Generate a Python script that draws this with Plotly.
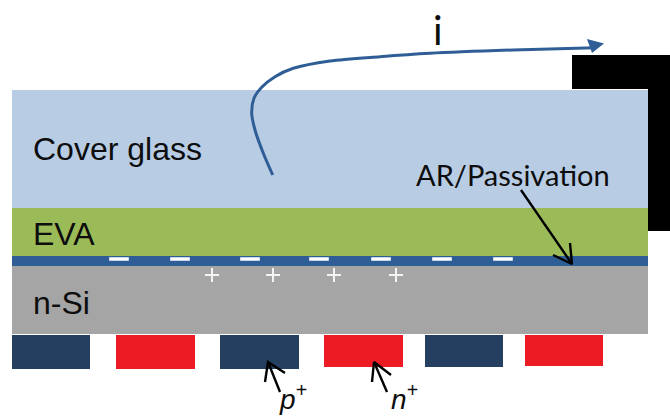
import plotly.graph_objects as go

# Layers: name, left, right, top, bottom, colour
layer_names = ["glass", "eva", "passivation", "silicon"]
layer_left = [12, 12, 12, 12]
layer_right = [648, 648, 648, 648]
layer_top = [90, 208, 256, 266]
layer_bottom = [208, 256, 266, 334]
layer_colors = ["#b8cce4", "#9bbb59", "#2f5e96", "#a5a5a5"]

# Rear contacts
contact_left = [12, 116, 220, 324, 425, 525]
contact_right = [90, 195, 299, 403, 503, 603]
contact_bottom = [369, 369, 369, 367, 367, 366]
contact_top = 335
contact_colors = ["#243f60", "#ed1c24", "#243f60", "#ed1c24", "#243f60", "#ed1c24"]

# Frame
frame_x = [572, 670, 670, 648, 648, 572, 572]
frame_y = [55, 55, 231, 231, 89, 89, 55]

# Charges
minus_x = [119, 180, 250, 319, 381, 442, 503]
minus_y = [259] * 7
plus_x = [212, 273, 334, 396]
plus_y = [275] * 4

# Current path
curve_x = [272.7, 263.3, 255, 251.7, 254, 261.7, 275, 293.3, 330, 380, 430, 513, 595]
curve_y = [175, 153.3, 130, 113.3, 98.3, 87.3, 76.7, 68.3, 61, 56.7, 53.3, 50, 47.7]
head_x = [604, 587, 592, 604]
head_y = [43.5, 39, 53, 43.5]

# Black pointer arrows: stroke, then the head's three points
pointers = [
    ([521, 572], [190, 264], [553, 572, 570], [255, 264, 243]),
    ([280, 268], [392, 362], [265, 268, 285], [382, 362, 373]),
    ([387, 374], [392, 362], [372, 374, 391], [382, 362, 375]),
]

fig = go.Figure()


def box(x0, x1, y0, y1, color):
    fig.add_trace(go.Scatter(x=[x0, x1, x1, x0, x0], y=[y0, y0, y1, y1, y0],
                             mode="lines", fill="toself", fillcolor=color,
                             line=dict(width=0), hoverinfo="skip"))


fig.add_trace(go.Scatter(x=frame_x, y=frame_y, mode="lines", fill="toself",
                         fillcolor="#000000", line=dict(width=0), hoverinfo="skip"))
for i in range(len(layer_names)):
    box(layer_left[i], layer_right[i], layer_top[i], layer_bottom[i], layer_colors[i])
for i in range(len(contact_left)):
    box(contact_left[i], contact_right[i], contact_top, contact_bottom[i], contact_colors[i])

fig.add_trace(go.Scatter(x=minus_x, y=minus_y, mode="markers",
                         marker=dict(symbol="line-ew", size=14, line=dict(color="white", width=3.5))))
fig.add_trace(go.Scatter(x=plus_x, y=plus_y, mode="markers",
                         marker=dict(symbol="cross-thin", size=10, line=dict(color="#f4f4f4", width=2))))

fig.add_trace(go.Scatter(x=curve_x, y=curve_y, mode="lines",
                         line=dict(color="#2f5e96", width=3, shape="spline", smoothing=0.8)))
fig.add_trace(go.Scatter(x=head_x, y=head_y, mode="lines", fill="toself",
                         fillcolor="#2f5e96", line=dict(width=0)))

for sx, sy, hx, hy in pointers:
    fig.add_trace(go.Scatter(x=sx, y=sy, mode="lines", line=dict(color="black", width=2.4)))
    fig.add_trace(go.Scatter(x=hx, y=hy, mode="lines", line=dict(color="black", width=2.4)))

labels = [
    ("Cover glass", 33, 149, "Liberation Sans", 32),
    ("EVA", 33, 234, "Liberation Sans", 32),
    ("n-Si", 33, 303, "Liberation Sans", 32),
    ("AR/Passivation", 416, 174, "Lato", 29),
    ("i", 433, 30, "Lato", 40),
]
for text, x, y, family, size in labels:
    fig.add_annotation(x=x, y=y, text=text, showarrow=False, xanchor="left", yanchor="middle",
                       xshift=-2, font=dict(family=family, size=size, color="#0d0d0d"))
fig.add_annotation(x=277, y=417, text="<i>p<sup>+</sup></i>", showarrow=False, xanchor="left", yanchor="bottom",
                   font=dict(family="Liberation Sans", size=28, color="#0d0d0d"))
fig.add_annotation(x=389, y=417, text="<i>n<sup>+</sup></i>", showarrow=False, xanchor="left", yanchor="bottom",
                   font=dict(family="Liberation Sans", size=28, color="#0d0d0d"))

fig.update_layout(
    width=670, height=417, margin=dict(l=0, r=0, t=0, b=0), showlegend=False,
    paper_bgcolor="white", plot_bgcolor="white",
    xaxis=dict(range=[0, 670], visible=False, fixedrange=True),
    yaxis=dict(range=[417, 0], visible=False, fixedrange=True),
)
fig.write_html("out.html", post_script="document.body.style.margin='0';",
               config={"displayModeBar": False})
